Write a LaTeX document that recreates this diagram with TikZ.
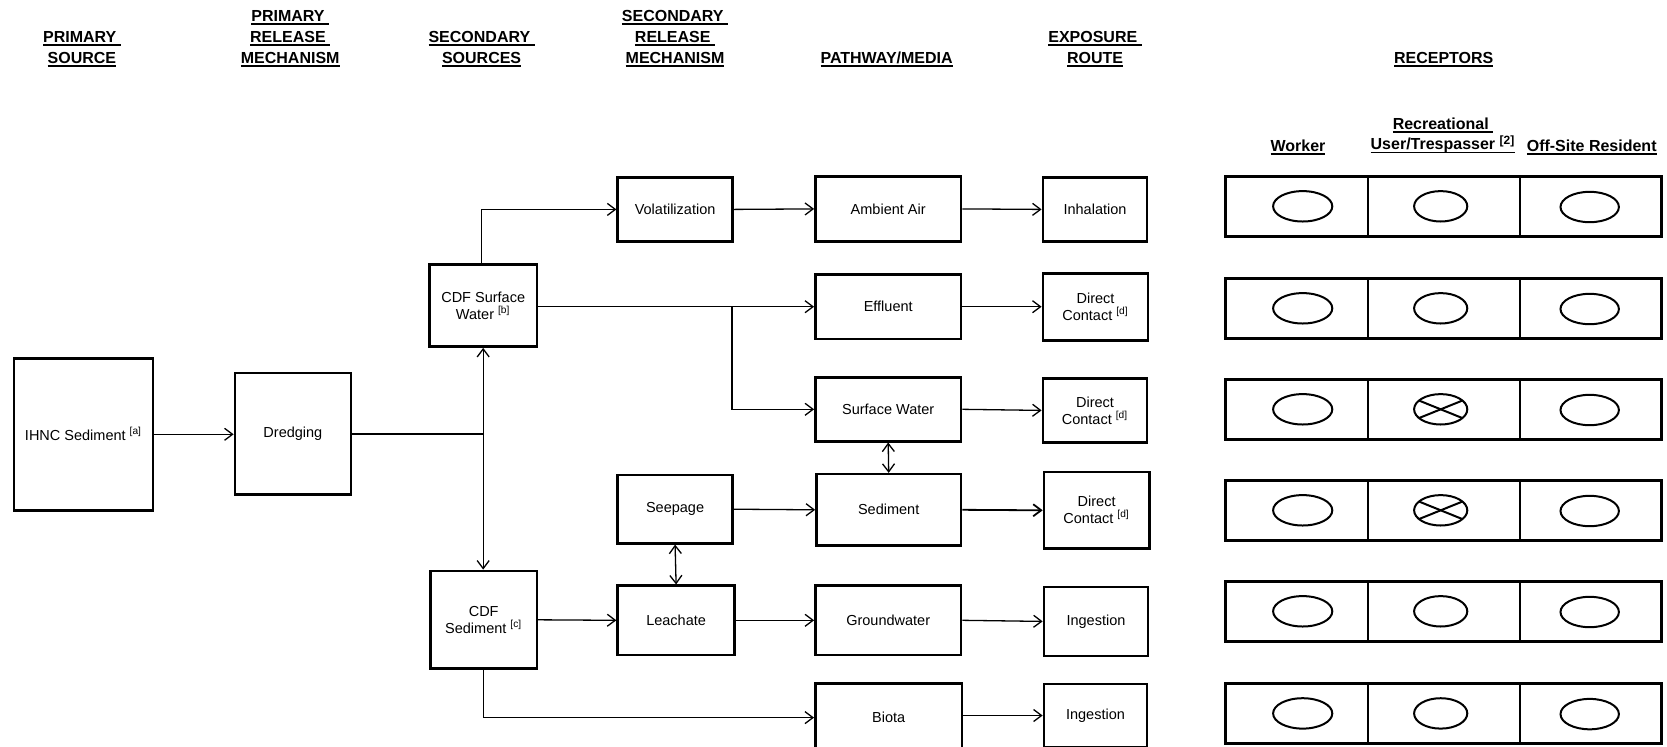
\documentclass[tikz,border=0pt]{standalone}
\usepackage{fontspec}
\setmainfont{Liberation Sans}
\usetikzlibrary{arrows.meta}

% heading underline, a little heavier than \underline
\newcommand{\hul}[1]{\setbox0=\hbox{#1}\rlap{\rule[-1.7pt]{\wd0}{0.85pt}}\box0}

\begin{document}
\begin{tikzpicture}[x=0.5pt,y=-0.5pt,
  box/.style 2 args={draw, line width=1.3pt, minimum width=#1*0.5pt,
    minimum height=#2*0.5pt, inner sep=0pt, align=center,
    font=\fontsize{7.25}{8.5}\selectfont},
  head/.style={align=center, inner sep=0pt, font=\fontsize{8}{10.35}\selectfont\bfseries},
  conn/.style={line width=0.65pt},
  tip/.tip={Straight Barb[length=4pt,width=6pt]},
  arr/.style={conn, -tip},
  darr/.style={conn, tip-tip},
  cell/.style={line width=1.5pt},
  divider/.style={line width=1pt},
  oval/.style={line width=1pt},
]
\useasboundingbox (0,0) rectangle (1667,746);
\clip (0,0) rectangle (1667,746);

% column headings
\node[head] (hps)  at (81.9,49)   {\hul{PRIMARY\ }\\\hul{SOURCE}};
\node[head] (hprm) at (290.2,38.6) {\hul{PRIMARY\ }\\\hul{RELEASE\ }\\\hul{MECHANISM}};
\node[head] (hss)  at (481.6,49)  {\hul{SECONDARY\ }\\\hul{SOURCES}};
\node[head] (hsrm) at (675,38.6)   {\hul{SECONDARY\ }\\\hul{RELEASE\ }\\\hul{MECHANISM}};
\node[head] (hpm)  at (886.6,59.3) {\hul{PATHWAY/MEDIA}};
\node[head] (her)  at (1095,49)   {\hul{EXPOSURE\ }\\\hul{ROUTE}};
\node[head] (hrc)  at (1443.7,59.3) {\hul{RECEPTORS}};
\node[head] (hwk)  at (1298,147)   {\hul{Worker}};
\node[head] (hrec) at (1443,135.5) {\hul{Recreational\ }\\\hul{User/Trespasser \textsuperscript{[2]}}};
\node[head] (hoff) at (1591.7,147) {\hul{Off-Site Resident}};

% sources, release mechanisms, media and routes
\node[box={139.3}{152}]   (ihnc)   at (83.5,434.3)  {IHNC Sediment \textsuperscript{[a]}};
\node[box={115.9}{121.2}] (dred)   at (292.9,433.7) {Dredging};
\node[box={107.4}{81.9}]  (cdfsw)  at (483.2,305.6) {CDF Surface\\Water \textsuperscript{[b]}};
\node[box={106.3}{97.8}]  (cdfsed) at (483.7,619.8) {CDF\\Sediment \textsuperscript{[c]}};
\node[box={114.8}{63.8}]  (volat)  at (675.1,209.4) {Volatilization};
\node[box={114.8}{68.1}]  (seep)   at (675.1,509.2) {Seepage};
\node[box={116.9}{69.1}]  (leach)  at (676.1,620.3) {Leachate};
\node[box={145.6}{64.8}]  (amb)    at (888.2,208.9) {Ambient Air};
\node[box={145.6}{64.8}]  (effl)   at (888.2,306.7) {Effluent};
\node[box={145.6}{63.8}]  (sw)     at (888.2,409.3) {Surface Water};
\node[box={144.5}{71.3}]  (sed)    at (888.7,509.8) {Sediment};
\node[box={145.6}{69.1}]  (gw)     at (888.2,620.3) {Groundwater};
\node[box={146.7}{68}]    (biota)  at (888.7,717.6) {Biota};
\node[box={104.2}{63.8}]  (inh)    at (1095,209.4)  {Inhalation};
\node[box={105.2}{67}]    (dc1)    at (1095.5,306.7) {Direct\\Contact \textsuperscript{[d]}};
\node[box={104.2}{63.7}]  (dc2)    at (1095,410.4)  {Direct\\Contact \textsuperscript{[d]}};
\node[box={105.2}{76.6}]  (dc3)    at (1096.6,510.3) {Direct\\Contact \textsuperscript{[d]}};
\node[box={104.1}{69.1}]  (ing1)   at (1096,621.4)  {Ingestion};
\node[box={103.1}{62.7}]  (ing2)   at (1095.5,715.5) {Ingestion};

% connectors
\draw[arr] (ihnc.east) -- (ihnc.east -| dred.west);
\coordinate (jn) at (cdfsw.south |- dred.east);
\draw[conn, line width=1pt] (dred.east) -- (jn);
\draw[darr] (cdfsw.south) -- (cdfsw.south |- cdfsed.north);
\draw[arr] ([xshift=-0.8pt]cdfsw.north) |- (volat.west);
\draw[arr] (volat.east) -- (amb.west);
\draw[arr] (amb.east) -- (inh.west);
\draw[arr] (cdfsw.east |- effl.west) -- (effl.west);
\path (effl.west) ++(-82,0) coordinate (br);
\draw[arr] (br) |- (sw.west);
\draw[arr] (effl.east) -- (dc1.west);
\draw[arr] (sw.east) -- (dc2.west);
\draw[darr] (sw.south) -- (sed.north);
\draw[arr] (seep.east) -- (sed.west);
\draw[arr, line width=0.9pt] (sed.east) -- (dc3.west);
\draw[darr] (seep.south) -- (leach.north);
\draw[arr] (cdfsed.east) -- (leach.west);
\draw[arr] (leach.east) -- (gw.west);
\draw[arr] (gw.east) -- (ing1.west);
\draw[arr] (cdfsed.south) |- (biota.west);
\draw[arr] (biota.east |- ing2.west) -- (ing2.west);

% receptor table
\foreach \t [count=\i] in {176.5,278.5,379.5,480.5,581.5,683.6} {
  \draw[cell] (1225.8,\t) rectangle (1661.6,\t+59.6);
  \draw[divider] (1368.2,\t) -- (1368.2,\t+59.6);
  \draw[divider] (1520.2,\t) -- (1520.2,\t+59.6);
  \draw[oval] (1302.7,\t+29.8) ellipse [x radius=14.8pt, y radius=7.6pt];
  \draw[oval] (1440.7,\t+29.8) ellipse [x radius=13.3pt, y radius=7.6pt];
  \draw[oval] (1589.7,\t+30.5) ellipse [x radius=14.6pt, y radius=7.6pt];
}
% complete exposure pathways
\foreach \t in {379.5,480.5} {
  \draw[oval] ([shift={(-10.9pt,-4.4pt)}]1440.7,\t+29.8) -- ([shift={(10.9pt,4.4pt)}]1440.7,\t+29.8);
  \draw[oval] ([shift={(-10.9pt,4.4pt)}]1440.7,\t+29.8) -- ([shift={(10.9pt,-4.4pt)}]1440.7,\t+29.8);
}
\end{tikzpicture}
\end{document}
